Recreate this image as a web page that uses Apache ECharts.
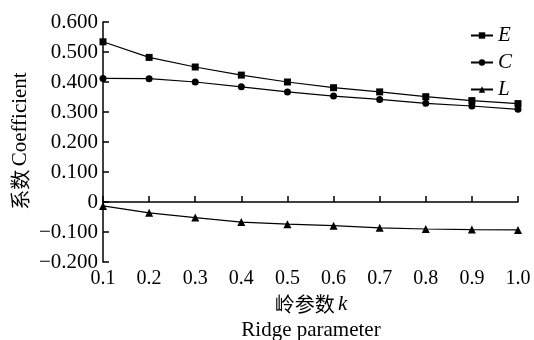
<!DOCTYPE html>
<html><head><meta charset="utf-8">
<script src="https://cdn.jsdelivr.net/npm/echarts@6/dist/echarts.min.js"></script>
<style>html,body{margin:0;padding:0;background:#fff}#c{width:534px;height:340px}</style>
</head><body><div id="c"></div>
<script>
const categories = ['0.1','0.2','0.3','0.4','0.5','0.6','0.7','0.8','0.9','1.0'];
const seriesE = [0.534, 0.482, 0.450, 0.423, 0.400, 0.381, 0.367, 0.351, 0.338, 0.328];
const seriesC = [0.412, 0.411, 0.400, 0.384, 0.367, 0.353, 0.342, 0.329, 0.320, 0.309];
const seriesL = [-0.013, -0.036, -0.052, -0.067, -0.074, -0.079, -0.086, -0.090, -0.092, -0.093];
const yTicks = [-0.2, -0.1, 0, 0.1, 0.2, 0.3, 0.4, 0.5, 0.6];

const serif = '"Liberation Serif","DejaVu Serif",serif';
const cjk = '"Noto Sans CJK SC",sans-serif';
const chart = echarts.init(document.getElementById('c'));
function mk(name, data, symbol, size) {
  return {
    name, type: 'line', data, symbol, symbolSize: size,
    lineStyle: { color: '#000', width: 1.2 },
    itemStyle: { color: '#000' },
    emphasis: { disabled: true }, animation: false
  };
}
chart.setOption({
  animation: false,
  grid: { left: 103, right: 16, top: 22, bottom: 78 },
  legend: {
    orient: 'vertical', right: 17, top: 20, itemGap: 6, itemWidth: 22, itemHeight: 8, itemStyle: {},
    textStyle: { fontFamily: serif, fontStyle: 'italic', fontSize: 21, color: '#000' },
    data: ['E', 'C', 'L']
  },
  xAxis: {
    type: 'category', data: categories, boundaryGap: false,
    axisLine: { lineStyle: { color: '#000', width: 1.5 } },
    axisTick: { inside: true, length: 6, lineStyle: { color: '#000', width: 1.5 } },
    axisLabel: { fontFamily: serif, fontSize: 20, color: '#000', margin: 7 }
  },
  yAxis: {
    type: 'value', min: -0.2, max: 0.6, interval: 0.1,
    axisLine: { show: true, lineStyle: { color: '#000', width: 1.5 } },
    axisTick: { show: true, inside: true, length: 6, lineStyle: { color: '#000', width: 1.5 } },
    splitLine: { show: false },
    axisLabel: {
      fontFamily: serif, fontSize: 21, color: '#000', margin: 5,
      formatter: v => {
        const t = yTicks.find(x => Math.abs(x - v) < 1e-9);
        const val = t === undefined ? v : t;
        if (Math.abs(val) < 1e-9) return '0';
        return val < 0 ? '\u2212' + Math.abs(val).toFixed(3) : val.toFixed(3);
      }
    }
  },
  graphic: [
    { type: 'text', x: 20, y: 141, rotation: Math.PI / 2,
      style: { rich: { a: { fontFamily: cjk, fontSize: 20, fill: '#000' }, b: { fontFamily: serif, fontSize: 21, fill: '#000' } },
        text: '{a|系数} {b|Coefficient}', align: 'center', verticalAlign: 'middle' } },
    { type: 'text', x: 311, y: 304,
      style: { rich: { a: { fontFamily: cjk, fontSize: 20, fill: '#000' }, b: { fontFamily: serif, fontSize: 21, fontStyle: 'italic', fill: '#000' } },
        text: '{a|岭参数} {b|k}', align: 'center', verticalAlign: 'middle' } },
    { type: 'text', x: 311, y: 330,
      style: { text: 'Ridge parameter', fontFamily: serif, fontSize: 21, fill: '#000', align: 'center', verticalAlign: 'middle' } }
  ],
  series: [
    mk('E', seriesE, 'rect', 7),
    mk('C', seriesC, 'circle', 7),
    mk('L', seriesL, 'triangle', 8)
  ]
});
</script></body></html>
